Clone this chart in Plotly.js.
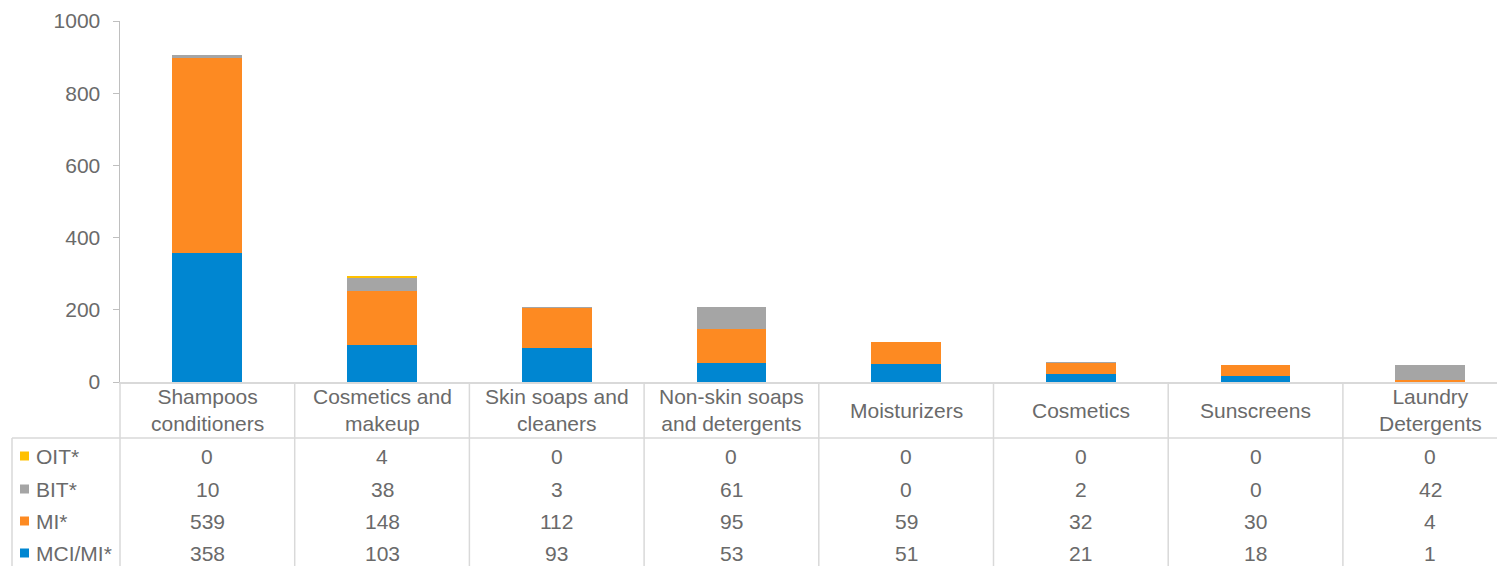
<!DOCTYPE html>
<html><head><meta charset="utf-8">
<script src="https://cdn.plot.ly/plotly-3.0.1.min.js"></script>
<style>html,body{margin:0;padding:0;background:#fff}</style>
</head><body>
<div id="chart" style="width:1498px;height:566px"></div>
<script>
const categories = ["Shampoos conditioners","Cosmetics and makeup","Skin soaps and cleaners","Non-skin soaps and detergents","Moisturizers","Cosmetics","Sunscreens","Laundry Detergents"];
const categoryLabels = ["Shampoos<br>conditioners","Cosmetics and<br>makeup","Skin soaps and<br>cleaners","Non-skin soaps<br>and detergents","Moisturizers","Cosmetics","Sunscreens","Laundry<br>Detergents"];
const seriesNames = ["OIT*","BIT*","MI*","MCI/MI*"];
const oit = [0,4,0,0,0,0,0,0];
const bit = [10,38,3,61,0,2,0,42];
const mi = [539,148,112,95,59,32,30,4];
const mciMi = [358,103,93,53,51,21,18,1];
const yTicks = [0,200,400,600,800,1000];

const colors = {"OIT*":"#ffc000","BIT*":"#a5a5a5","MI*":"#fd8a22","MCI/MI*":"#0086d1"};
const values = {"OIT*":oit,"BIT*":bit,"MI*":mi,"MCI/MI*":mciMi};
const textColor = "#6a6a6a";
const font = "Liberation Sans, Arial, sans-serif";
const fs = 21;

const stackOrder = ["MCI/MI*","MI*","BIT*","OIT*"];
const traces = stackOrder.map(n => ({
  type:"bar", name:n, x:categories, y:values[n],
  marker:{color:colors[n], line:{width:0}}, hoverinfo:"x+y+name"
}));

// pixel helpers -> paper coords
const W=1498,H=566,L=120,R=1,T=21,B=184;
const pw=W-L-R, ph=H-T-B;
const px = p => (p-L)/pw;
const py = p => (H-B-p)/ph;
const catWidthPx = 174.7;

const gridColor = "#d9d9d9";
const shapes = [];
const annotations = [];
shapes.push({type:"line",xref:"paper",yref:"paper",x0:px(12),x1:1,y0:py(438),y1:py(438),line:{color:gridColor,width:1.5}});
shapes.push({type:"line",xref:"paper",yref:"paper",x0:px(12),x1:px(12),y0:py(438),y1:py(566),line:{color:gridColor,width:1.5}});
shapes.push({type:"line",xref:"paper",yref:"paper",x0:0,x1:0,y0:0,y1:py(566),line:{color:gridColor,width:1.5}});
for(let i=0;i<categories.length-1;i++){
  shapes.push({type:"line",xref:"x",yref:"paper",x0:i+0.5,x1:i+0.5,y0:0,y1:py(566),line:{color:gridColor,width:1.5}});
}
categories.forEach((c,i)=>{
  annotations.push({xref:"x",yref:"paper",x:c,y:py(410),text:categoryLabels[i],showarrow:false,
    xanchor:"center",yanchor:"middle",font:{family:font,size:fs,color:textColor}});
});
const rowY = [456,489,521,553];
seriesNames.forEach((n,r)=>{
  const yc = rowY[r];
  shapes.push({type:"rect",xref:"paper",yref:"paper",x0:px(20),x1:px(29),y0:py(yc-4.5),y1:py(yc+4.5),fillcolor:colors[n],line:{width:0}});
  annotations.push({xref:"paper",yref:"paper",x:px(34),y:py(yc),text:n,showarrow:false,xanchor:"left",yanchor:"middle",
    font:{family:font,size:fs,color:textColor}});
  values[n].forEach((v,i)=>{
    annotations.push({xref:"x",yref:"paper",x:categories[i],y:py(yc),text:String(v),showarrow:false,
      xanchor:"center",yanchor:"middle",font:{family:font,size:fs,color:textColor}});
  });
});

const layout = {
  width:W,height:H,margin:{l:L,r:R,t:T,b:B},
  paper_bgcolor:"#fff",plot_bgcolor:"#fff",
  barmode:"stack",bargap:0.6,showlegend:false,
  font:{family:font,size:fs,color:textColor},
  xaxis:{range:[-0.5,-0.5+pw/catWidthPx],showticklabels:false,ticks:"",showgrid:false,zeroline:false,showline:true,linecolor:gridColor,linewidth:1.5,fixedrange:true},
  yaxis:{range:[0,1000],tickvals:yTicks,ticktext:yTicks.map(String),showgrid:false,zeroline:false,showline:true,
    linecolor:"#bfbfbf",linewidth:1.5,ticks:"outside",ticklen:6,tickcolor:"#bfbfbf",ticklabelstandoff:8,
    tickfont:{family:font,size:fs,color:textColor},fixedrange:true},
  shapes:shapes,annotations:annotations
};
Plotly.newPlot("chart",traces,layout,{displayModeBar:false,staticPlot:true});
</script>
</body></html>
